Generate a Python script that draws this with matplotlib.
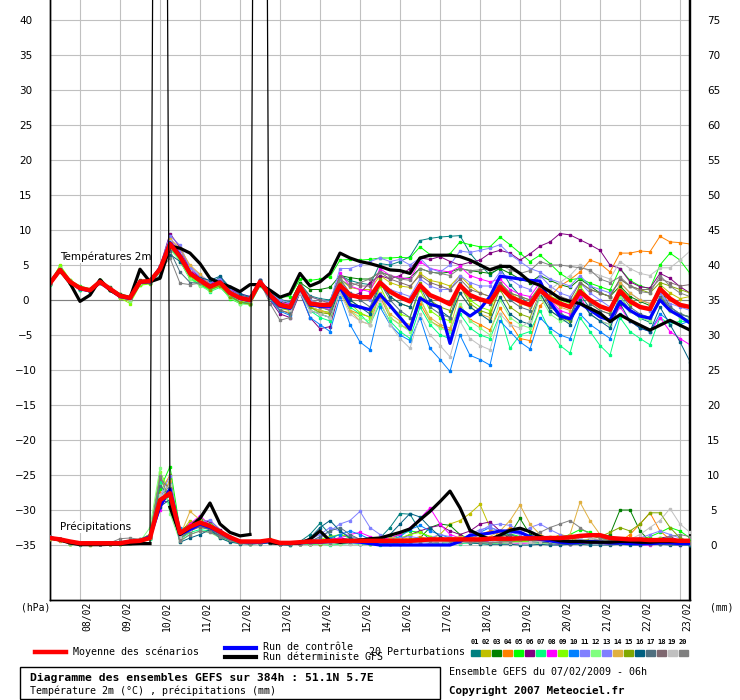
#!/usr/bin/env python3
# -*- coding: utf-8 -*-

import numpy as np
import matplotlib
matplotlib.use('Agg')
import matplotlib.pyplot as plt
from matplotlib import transforms
from matplotlib.lines import Line2D
from matplotlib.patches import Rectangle

W, H = 740, 700

# forecast steps, hours after 07/02/2009 06h
hours = np.arange(0, 385, 6)
day_hours = np.arange(18, 384, 24)
day_labels = ['08/02', '09/02', '10/02', '11/02', '12/02', '13/02', '14/02', '15/02',
              '16/02', '17/02', '18/02', '19/02', '20/02', '21/02', '22/02', '23/02']

member_colors = ['#008080', '#c0c000', '#008000', '#ff8000', '#00ff00', '#800080', '#00ff80',
                 '#ff00ff', '#80ff00', '#0080ff', '#8080ff', '#80ff80', '#7f7fff', '#e0b040',
                 '#80a800', '#005f80', '#4f6f7f', '#7f6870', '#c0c0c0', '#808080']
member_names = ['%02d' % (k + 1) for k in range(20)]

# 2m temperature (C)
t_mean = [2.4, 4.3, 2.6, 1.7, 1.4, 2.6, 1.6, 0.6, 0.3, 2.6, 2.7, 4.4, 8.0, 6.2, 3.8, 2.8, 1.9, 2.5, 1.0, 0.3, 0.0, 2.6, 0.7, -0.7, -1.0,
          1.9, -0.5, -0.7, -0.7, 2.1, 0.7, 0.4, 0.4, 2.5, 1.2, 0.4, -0.2, 2.1, 0.7, 0.1, -0.6, 2.1, 0.7, 0.1, -0.3,
          1.9, 0.5, -0.2, -0.7, 1.4, 0.2, -0.5, -1.0, 1.2, 0.0, -0.9, -1.4, 1.3, -0.2, -1.0, -1.3, 1.6, 0.2, -0.7, -1.0]
t_control = [2.4, 4.3, 2.6, 1.6, 1.3, 2.5, 1.5, 0.5, 0.2, 2.5, 2.6, 4.5, 8.2, 6.4, 3.9, 2.9, 2.0, 2.6, 1.0, 0.2, -0.1, 2.6, 0.5, -0.9, -1.2,
             1.7, -0.7, -0.9, -0.9, 1.8, -0.7, -1.0, -1.4, 0.8, -0.8, -2.5, -4.2, 0.3, -0.6, -1.0, -6.2, -1.3, -2.3, -1.3, 0.5,
             3.4, 3.2, 3.0, 2.8, 2.7, -0.3, -2.3, -2.7, -0.5, -1.4, -2.4, -2.9, -0.2, -1.5, -2.3, -2.6, 0.0, -1.5, -2.3, -3.3]
t_det = [2.4, 4.3, 2.4, -0.2, 0.7, 2.9, 1.4, 0.6, 0.3, 4.4, 2.6, 3.1, 7.7, 7.4, 6.7, 5.2, 3.1, 2.4, 1.9, 1.2, 2.2, 2.2, 1.4, 0.4, 0.9,
         3.8, 2.0, 2.6, 3.8, 6.7, 6.0, 5.5, 5.2, 4.8, 4.3, 4.2, 3.8, 6.0, 6.4, 6.4, 6.4, 6.2, 5.7, 5.0, 4.3,
         4.8, 4.8, 3.8, 2.6, 2.1, 1.2, 0.2, -0.2, -0.5, -1.2, -1.9, -3.1, -2.1, -2.9, -3.6, -4.3, -3.6, -2.9, -3.6, -4.3]
t_members = [
    [2.3, 4.5, 2.5, 1.6, 1.3, 2.8, 1.5, 0.5, 0.2, 2.5, 2.6, 4.0, 7.5, 6.6, 4.2, 3.2, 2.2, 3.3, 1.5, 0.8, 0.3, 2.9, 1.2, 0.1, -0.3,
     2.4, 0.6, 0.2, 0.0, 3.5, 2.8, 2.4, 2.2, 5.2, 5.0, 5.5, 6.2, 8.5, 8.8, 9.0, 9.1, 9.2, 6.7, 5.0, 3.6, 4.6, 2.2, 0.6, -0.8, 1.5, -0.5, -1.8, -2.8, 0.8, -1.2, -2.2, -3.0, 0.6, -1.5, -2.6, -3.2, 0.4, -1.4, -2.4, -3.0],
    [2.5, 4.2, 2.7, 1.8, 1.5, 2.5, 1.7, 0.8, 0.1, 2.4, 2.5, 4.2, 7.6, 6.4, 3.6, 2.5, 1.6, 2.0, 0.5, -0.2, -0.5, 2.2, 0.3, -1.2, -1.5,
     2.0, 0.0, -0.5, -0.8, 3.0, 1.8, 1.5, 1.5, 3.5, 2.5, 2.0, 1.8, 3.8, 2.8, 2.5, 2.0, 3.5, 2.0, 1.0, 0.5, 2.5, 1.0, 0.0, -0.5, 2.0, 0.5, -0.5, -1.0, 1.5, 0.0, -0.8, -1.5, 1.8, 0.2, -0.8, -1.2, 2.2, 1.0, 0.2, 0.5],
    [2.4, 4.4, 2.6, 1.5, 1.2, 2.7, 1.8, 0.9, 0.5, 2.8, 2.9, 4.6, 8.2, 6.0, 3.5, 2.6, 2.0, 2.6, 1.3, 0.6, 0.4, 2.8, 1.0, -0.2, -0.5,
     2.5, 1.5, 1.5, 1.8, 3.5, 3.2, 3.0, 3.0, 4.0, 3.5, 3.0, 3.2, 4.5, 4.0, 3.8, 4.0, 4.5, 4.2, 4.0, 3.8, 4.5, 3.8, 3.0, 2.5, 3.5, 2.8, 2.2, 1.8, 3.0, 2.0, 1.0, 0.5, 2.0, 0.5, -0.2, -0.8, 1.8, -1.0, -2.0, -2.4],
    [2.3, 4.2, 2.5, 1.7, 1.5, 2.6, 1.4, 0.4, -0.2, 2.3, 2.4, 4.5, 8.5, 7.0, 4.5, 3.0, 1.8, 2.2, 0.8, 0.0, -0.3, 2.4, 0.2, -1.5, -1.8,
     1.5, -1.0, -1.5, -1.8, 1.2, -1.5, -2.0, -2.4, 0.5, -2.5, -3.5, -4.3, -0.5, -3.0, -3.8, -4.3, -1.0, -2.8, -3.5, -4.3, -1.2, -3.3, -5.5, -5.8, -0.8, 0.5, 2.0, 2.9, 4.0, 5.7, 5.2, 4.0, 6.7, 6.7, 7.0, 6.9, 9.1, 8.3, 8.2, 8.0],
    [2.6, 4.8, 2.8, 2.0, 1.6, 2.8, 1.6, 0.5, 0.0, 2.2, 2.4, 4.0, 7.8, 5.5, 3.0, 2.2, 1.4, 2.0, 0.2, -0.5, -0.6, 2.2, 0.8, 0.4, 0.5,
     3.0, 2.8, 3.0, 3.3, 5.7, 5.8, 5.7, 5.8, 6.0, 6.0, 6.1, 6.0, 7.6, 6.5, 6.3, 6.6, 8.3, 7.9, 7.6, 7.6, 9.0, 7.9, 6.7, 5.5, 6.4, 5.2, 3.8, 2.9, 3.1, 2.4, 1.9, 1.4, 4.5, 2.8, 2.0, 1.6, 5.0, 6.7, 5.7, 3.8],
    [2.4, 4.3, 2.6, 1.6, 1.3, 2.6, 1.5, 0.7, 0.4, 2.7, 2.8, 4.8, 9.5, 7.5, 4.3, 3.3, 2.4, 3.0, 1.5, 0.5, 0.2, 2.5, 0.0, -2.0, -2.5,
     1.0, -2.5, -4.1, -3.8, 1.5, 0.5, 1.0, 2.5, 3.5, 3.0, 3.5, 4.5, 6.0, 5.8, 6.2, 5.5, 5.0, 5.4, 5.7, 6.7, 7.1, 6.7, 5.7, 6.6, 7.7, 8.3, 9.5, 9.3, 8.6, 7.9, 7.1, 5.0, 4.5, 2.6, 1.9, 1.7, 3.8, 3.1, 1.9, 1.0],
    [2.2, 4.0, 2.4, 1.5, 1.2, 2.4, 1.5, 0.5, 0.0, 2.3, 2.5, 4.1, 7.3, 5.8, 3.2, 2.2, 1.2, 1.8, 0.4, -0.4, -0.6, 2.0, 0.4, -1.0, -1.5,
     1.5, -1.5, -2.5, -3.0, 1.8, -1.0, -2.0, -3.5, -0.5, -3.0, -4.5, -5.5, -1.0, -3.5, -5.0, -5.5, -2.0, -4.0, -5.0, -5.5, -2.0, -6.9, -5.0, -4.5, -1.5, -4.5, -6.5, -7.6, -2.5, -4.5, -6.5, -7.9, -2.5, -4.5, -5.5, -6.4, -2.5, -3.5, -3.0, -3.2],
    [2.5, 4.4, 2.7, 1.8, 1.5, 2.7, 1.7, 0.6, 0.3, 2.6, 2.8, 4.5, 8.6, 6.8, 4.3, 3.1, 2.3, 2.8, 1.6, 0.9, 0.5, 2.9, 1.0, -0.3, -0.6,
     1.8, -0.5, -1.0, -1.3, 3.8, 2.0, 1.5, 1.2, 4.5, 3.5, 3.2, 3.0, 5.5, 4.5, 4.2, 4.0, 4.8, 3.5, 3.0, 2.6, 3.0, 1.5, 0.8, 0.5, 2.5, 0.0, -1.5, -2.0, 0.5, -2.0, -3.0, -3.5, -1.0, -3.0, -4.0, -4.5, -2.5, -4.5, -5.5, -6.4],
    [2.3, 5.0, 2.9, 1.9, 1.6, 2.9, 1.7, 0.3, -0.5, 2.1, 2.3, 4.3, 7.8, 6.0, 3.3, 2.4, 1.5, 2.1, 0.6, -0.2, -0.4, 2.3, 0.3, -1.2, -1.4,
     2.2, -1.0, -1.5, -1.8, 3.2, -0.5, -1.8, -2.5, 2.0, -1.0, -2.0, -2.5, 1.5, -1.5, -2.5, -3.0, 2.0, 0.0, -1.0, -1.5, 2.5, 1.0, 0.5, 0.0, 2.0, 0.5, 0.0, -0.5, 2.0, 0.0, -1.0, -1.5, 1.5, -0.5, -1.0, -1.5, 1.0, -1.5, -2.0, -2.5],
    [2.4, 4.3, 2.5, 1.6, 1.4, 2.5, 1.5, 0.6, 0.2, 2.5, 2.7, 4.6, 8.2, 6.3, 3.9, 2.6, 1.7, 2.3, 0.6, -0.3, -0.5, 2.4, 0.1, -1.6, -2.2,
     1.2, -2.5, -3.5, -4.5, 0.5, -3.5, -6.0, -7.1, -1.0, -3.5, -5.0, -5.8, -2.5, -6.9, -8.5, -10.2, -5.0, -7.9, -8.5, -9.3, -3.0, -4.5, -6.0, -7.0, -2.5, -4.0, -5.0, -5.5, -2.0, -3.5, -4.5, -5.5, -2.0, -3.0, -4.0, -4.5, -2.0, -3.0, -3.5, -3.0],
    [2.4, 4.4, 2.6, 1.7, 1.4, 2.7, 1.7, 0.7, 0.4, 2.7, 2.9, 4.8, 9.2, 7.8, 4.6, 3.4, 2.5, 3.0, 1.4, 0.6, 0.3, 2.8, 1.1, 0.0, -0.4,
     2.0, 0.5, 0.0, -0.3, 4.5, 4.5, 5.0, 5.5, 6.0, 5.5, 5.8, 5.0, 6.0, 4.5, 4.0, 5.0, 7.0, 6.8, 7.1, 7.4, 7.9, 6.5, 5.5, 4.5, 4.0, 3.0, 2.5, 2.0, 3.5, 2.0, 1.5, 1.0, 2.5, 1.0, 0.0, -0.5, 1.0, -0.5, -1.0, -1.5],
    [2.3, 4.6, 2.7, 1.6, 1.3, 2.6, 1.4, 0.4, -0.1, 2.4, 2.5, 4.0, 7.2, 5.6, 3.0, 2.0, 1.3, 1.9, 0.3, -0.5, -0.7, 2.1, 0.2, -1.1, -1.3,
     1.0, -1.0, -2.0, -2.5, 1.5, -1.5, -2.5, -3.0, 1.0, -2.5, -3.5, -4.5, 0.5, -3.0, -4.0, -4.5, -0.5, -3.0, -4.0, -5.0, 0.0, -2.5, -3.5, -4.0, 0.5, -2.0, -3.0, -3.0, 0.0, -2.0, -3.0, -3.5, 0.5, -1.5, -2.5, -3.0, 0.0, -1.5, -2.5, -2.8],
    [2.4, 4.3, 2.6, 1.7, 1.4, 2.6, 1.6, 0.6, 0.3, 2.6, 2.6, 4.3, 8.8, 7.2, 4.8, 3.6, 2.6, 2.7, 1.2, 0.4, 0.1, 2.6, 0.6, -0.8, -1.1,
     2.0, 0.0, -0.5, -1.0, 2.5, 1.0, 0.5, 0.0, 2.8, 1.5, 1.0, 0.5, 3.0, 2.0, 1.5, 1.5, 3.5, 2.5, 2.0, 2.0, 4.0, 3.0, 2.0, 1.5, 3.5, 2.0, 1.0, 0.5, 2.5, 1.0, 0.0, -1.0, 1.5, 0.0, -1.0, -1.5, 1.0, -1.0, -2.0, -2.5],
    [2.5, 4.3, 2.6, 1.8, 1.5, 2.6, 1.6, 0.5, 0.1, 2.5, 2.6, 4.7, 8.7, 7.4, 5.0, 3.7, 2.2, 2.4, 0.9, 0.2, -0.2, 2.5, 0.5, -1.0, -1.3,
     1.5, -1.0, -1.5, -2.0, 2.0, -1.5, -3.0, -3.5, 1.0, -2.0, -3.0, -3.5, 0.0, -2.5, -3.5, -4.0, 1.0, -1.0, -2.0, -2.5, 2.0, 0.5, -0.5, -1.0, 1.5, 0.0, -1.0, -1.5, 1.0, -0.5, -1.5, -2.0, 2.5, 1.0, 0.0, -0.5, 1.5, 0.0, -0.5, -1.0],
    [2.4, 4.2, 2.5, 1.7, 1.4, 2.5, 1.5, 0.6, 0.2, 2.6, 2.7, 4.4, 7.7, 6.1, 3.6, 2.4, 1.5, 2.0, 0.5, -0.3, -0.6, 2.2, 0.4, -1.0, -1.4,
     1.8, -1.0, -1.8, -2.0, 2.5, 0.0, -1.0, -1.5, 3.0, 0.5, -0.5, -1.0, 2.5, 0.0, -1.0, -1.5, 2.0, -0.5, -1.5, -2.0, 1.5, -1.0, -2.0, -2.5, 1.0, -1.5, -2.5, -3.0, 2.5, 1.5, 1.0, 0.5, 3.0, 2.0, 1.5, 1.0, 2.5, 2.0, 1.5, 1.0],
    [2.3, 4.4, 2.6, 1.6, 1.3, 2.7, 1.6, 0.7, 0.3, 2.7, 2.8, 4.9, 6.5, 5.5, 3.8, 3.2, 2.8, 3.4, 1.8, 0.9, 0.5, 2.8, 1.0, -0.4, -0.8,
     1.2, -1.5, -2.0, -2.5, 2.0, 0.0, -1.0, -2.0, 2.5, 0.5, -0.5, -1.0, 2.0, 0.0, -1.5, -2.5, 1.0, -1.0, -2.0, -3.0, 0.5, -2.0, -3.0, -3.5, 1.0, -1.5, -2.5, -3.5, 0.0, -2.0, -3.0, -4.0, -0.5, -3.0, -4.0, -4.5, -1.0, -3.5, -6.0, -8.8],
    [2.4, 4.3, 2.6, 1.7, 1.4, 2.6, 1.6, 0.6, 0.3, 2.6, 2.5, 3.5, 7.0, 4.0, 2.5, 2.4, 2.0, 2.6, 1.1, 0.3, 0.0, 2.5, 0.3, -1.4, -2.0,
     2.0, -0.5, -1.0, -1.5, 3.0, 1.0, 0.0, -1.0, 2.5, 0.0, -1.5, -2.5, 2.0, -1.0, -2.0, -2.5, 2.5, 0.5, 0.0, -0.5, 2.0, 0.0, -1.0, -1.5, 1.5, -1.0, -2.0, -2.5, 1.5, -0.5, -1.5, -2.0, 1.0, -1.0, -2.0, -2.5, 0.5, -1.0, -2.0, -2.5],
    [2.5, 4.3, 2.7, 1.8, 1.5, 2.7, 1.7, 0.7, 0.4, 2.7, 2.8, 4.4, 8.3, 6.5, 4.0, 3.0, 2.1, 2.6, 1.1, 0.4, 0.1, 2.7, 0.8, -0.6, -0.9,
     2.2, 0.5, 0.0, -0.5, 3.5, 2.5, 2.0, 2.0, 4.0, 3.0, 2.5, 2.0, 3.5, 2.5, 2.0, 1.5, 3.0, 1.5, 1.0, 0.5, 2.5, 1.0, 0.5, 0.0, 2.0, 1.0, 0.5, 0.0, 2.5, 1.5, 1.0, 0.5, 3.0, 2.0, 1.5, 1.5, 3.0, 2.5, 2.0, 2.2],
    [2.4, 4.3, 2.6, 1.7, 1.4, 2.6, 1.6, 0.6, 0.2, 2.5, 2.6, 4.5, 8.4, 6.6, 4.1, 2.9, 2.0, 2.5, 0.9, 0.1, -0.2, 2.5, 0.5, -1.0, -1.4,
     1.0, -1.5, -2.0, -2.5, 1.0, -2.0, -3.0, -3.5, 0.0, -3.5, -5.5, -6.9, -2.0, -5.0, -6.5, -8.1, -3.0, -5.5, -6.5, -7.1, -2.0, -3.5, -4.0, -3.0, 1.0, 1.5, 2.5, 3.5, 5.0, 4.0, 3.5, 3.0, 5.5, 4.5, 3.8, 3.5, 4.6, 4.6, 5.7, 7.0],
    [2.3, 4.3, 2.6, 1.7, 1.4, 2.6, 1.6, 0.6, 0.3, 2.6, 2.7, 4.2, 6.0, 2.4, 2.2, 2.4, 2.2, 2.4, 1.0, 0.3, 0.0, 2.6, -0.5, -2.9, -2.5,
     1.5, -0.5, -1.0, -1.5, 3.0, 2.0, 2.5, 3.0, 4.0, 3.5, 3.0, 2.8, 4.5, 4.0, 3.8, 3.5, 4.5, 4.2, 4.3, 4.5, 5.0, 4.3, 3.8, 4.2, 5.5, 5.0, 5.0, 4.8, 4.6, 4.3, 3.0, 2.5, 3.3, 2.0, 1.2, 1.0, 3.5, 2.0, 1.0, 0.5],
]

# precipitation (mm); the two 300 values are the off-scale jumps of the GFS run
p_mean = [1.0, 0.8, 0.5, 0.25, 0.25, 0.25, 0.25, 0.25, 0.5, 0.6, 1.0, 6.4, 7.4, 1.7, 2.6, 3.2, 2.7, 1.9, 1.1, 0.5, 0.5, 0.5, 0.7, 0.3, 0.3,
          0.4, 0.5, 0.5, 0.6, 0.6, 0.6, 0.6, 0.6, 0.6, 0.6, 0.6, 0.6, 0.7, 0.8, 0.8, 0.8, 0.8, 0.8, 0.8, 0.9,
          0.9, 0.9, 0.95, 0.95, 0.95, 1.0, 1.0, 1.1, 1.3, 1.4, 1.4, 1.0, 0.9, 0.8, 0.8, 0.7, 0.7, 0.7, 0.6, 0.6]
p_control = [1.0, 0.8, 0.4, 0.2, 0.2, 0.2, 0.3, 0.3, 0.5, 0.6, 1.2, 5.5, 8.0, 1.5, 2.2, 3.0, 2.5, 1.8, 1.0, 0.5, 0.4, 0.4, 0.5, 0.2, 0.2,
             0.3, 0.4, 0.4, 0.5, 0.5, 0.5, 0.4, 0.2, 0.0, 0.0, 0.0, 0.0, 0.0, 0.0, 0.0, 0.0, 0.5, 1.4, 1.5, 1.7,
             2.0, 2.0, 1.8, 1.2, 0.8, 0.6, 0.4, 0.3, 0.4, 0.5, 0.4, 0.3, 0.3, 0.2, 0.2, 0.2, 0.3, 0.3, 0.2, 0.2]
p_det = [1.0, 0.7, 0.3, 0.05, 0.05, 0.05, 0.1, 0.1, 0.15, 0.2, 0.2, 300, 5.4, 1.5, 2.5, 3.8, 6.0, 3.0, 1.8, 1.3, 1.5, 300, 0.3, 0.2, 0.2,
         0.3, 0.8, 2.0, 0.6, 0.4, 0.5, 0.7, 0.9, 1.0, 1.4, 1.8, 2.3, 3.6, 4.8, 6.2, 7.7, 5.3, 2.1, 1.4, 0.8,
         1.4, 2.1, 2.4, 1.9, 1.2, 0.9, 0.6, 0.5, 0.5, 0.4, 0.4, 0.4, 0.5, 0.5, 0.4, 0.4, 0.5, 0.5, 0.5, 0.5]
p_members = [
    [1.2, 0.8, 0.3, 0.1, 0.1, 0.2, 0.3, 0.4, 0.3, 0.6, 1.4, 7.0, 8.5, 1.0, 2.0, 2.8, 2.5, 1.5, 0.8, 0.4, 0.3, 0.3, 0.6, 0.2, 0.1,
     0.5, 1.5, 3.1, 1.5, 0.5, 0.3, 0.2, 0.3, 1.0, 2.5, 4.5, 4.4, 2.0, 0.8, 0.5, 0.4, 0.6, 0.8, 0.6, 0.4, 0.3, 0.3, 0.5, 0.8, 0.6, 0.4, 0.3, 0.4, 0.3, 0.2, 0.3, 0.5, 0.4, 0.3, 0.2, 0.2, 0.3, 0.3, 0.2, 0.2],
    [1.0, 0.7, 0.2, 0.1, 0.1, 0.1, 0.2, 0.3, 0.5, 0.7, 1.0, 5.5, 9.5, 1.5, 3.5, 2.5, 2.2, 1.8, 1.0, 0.5, 0.4, 0.5, 0.8, 0.3, 0.2,
     0.3, 0.2, 0.4, 0.6, 0.8, 0.5, 0.3, 0.2, 0.3, 0.5, 0.8, 1.0, 0.5, 0.8, 1.5, 3.0, 3.5, 4.5, 5.8, 2.5, 1.0, 0.6, 0.5, 0.4, 0.5, 0.8, 1.5, 1.2, 0.6, 0.4, 0.4, 0.5, 0.8, 0.6, 0.4, 0.3, 0.3, 0.4, 0.3, 0.2],
    [1.1, 0.9, 0.4, 0.2, 0.1, 0.1, 0.2, 0.2, 0.4, 0.5, 0.9, 6.0, 7.0, 2.0, 3.0, 4.0, 2.0, 1.2, 0.6, 0.3, 0.3, 0.4, 0.5, 0.2, 0.1,
     0.2, 0.1, 0.2, 0.3, 0.4, 0.3, 0.2, 0.2, 0.3, 0.2, 0.2, 0.5, 1.0, 2.5, 3.0, 2.8, 1.5, 0.8, 0.5, 0.4, 0.6, 1.5, 3.8, 1.5, 0.8, 0.5, 0.3, 0.3, 0.4, 0.5, 0.8, 1.5, 5.0, 5.0, 2.0, 0.5, 0.4, 0.3, 0.3, 0.2],
    [0.9, 0.6, 0.2, 0.1, 0.0, 0.1, 0.1, 0.2, 0.3, 0.5, 1.2, 7.5, 10.0, 1.2, 2.5, 3.5, 3.0, 1.5, 0.8, 0.5, 0.4, 0.3, 0.4, 0.1, 0.1,
     0.2, 0.3, 0.2, 0.2, 0.3, 0.4, 0.5, 0.3, 0.2, 0.3, 0.5, 0.8, 1.2, 0.8, 0.5, 0.4, 0.5, 0.8, 1.5, 2.0, 1.5, 2.5, 2.0, 1.0, 0.6, 0.4, 0.3, 0.5, 1.0, 1.5, 1.0, 0.6, 0.5, 1.5, 3.0, 4.6, 2.0, 0.8, 0.5, 0.4],
    [1.0, 0.8, 0.3, 0.1, 0.1, 0.2, 0.3, 0.2, 0.6, 0.8, 1.5, 8.0, 11.2, 2.2, 2.8, 3.8, 3.2, 2.0, 1.0, 0.4, 0.2, 0.3, 0.5, 0.2, 0.1,
     0.3, 0.2, 0.5, 1.0, 1.5, 1.0, 0.5, 0.3, 0.4, 0.8, 1.5, 2.0, 1.8, 1.2, 0.8, 0.5, 0.5, 0.6, 0.8, 1.0, 1.2, 1.6, 1.2, 0.8, 0.5, 0.4, 1.0, 1.5, 2.2, 1.8, 1.0, 0.5, 0.5, 0.6, 0.8, 1.2, 1.8, 2.5, 2.0, 1.0],
    [1.1, 0.7, 0.3, 0.1, 0.1, 0.1, 0.2, 0.3, 0.4, 0.6, 1.0, 6.5, 6.0, 1.5, 2.6, 3.0, 3.5, 2.2, 1.2, 0.6, 0.4, 0.4, 0.6, 0.3, 0.2,
     0.2, 0.3, 0.5, 0.8, 1.0, 0.8, 0.5, 0.4, 0.3, 0.4, 0.8, 1.5, 2.0, 2.5, 2.8, 2.0, 1.5, 2.0, 3.0, 3.3, 2.0, 1.0, 0.6, 0.4, 0.3, 0.3, 0.2, 0.2, 0.3, 0.5, 0.6, 0.4, 0.3, 0.5, 0.8, 0.6, 1.0, 1.2, 0.6, 0.4],
    [1.0, 0.9, 0.2, 0.0, 0.1, 0.2, 0.2, 0.1, 0.3, 0.4, 0.8, 9.0, 5.5, 0.8, 1.8, 2.2, 2.0, 1.2, 0.7, 0.3, 0.2, 0.3, 0.4, 0.1, 0.0,
     0.2, 0.1, 0.1, 0.0, 0.1, 0.2, 0.1, 0.1, 0.0, 0.1, 0.3, 0.5, 0.4, 0.3, 0.2, 0.1, 0.2, 0.3, 0.2, 0.1, 0.3, 0.4, 0.6, 0.5, 0.3, 0.2, 0.1, 0.1, 0.2, 0.3, 0.6, 1.0, 0.6, 0.4, 0.2, 0.1, 0.2, 0.1, 0.1, 0.0],
    [1.2, 0.8, 0.3, 0.2, 0.1, 0.1, 0.3, 0.3, 0.5, 0.7, 1.1, 5.0, 8.0, 1.8, 3.0, 4.2, 2.8, 1.6, 0.9, 0.5, 0.4, 0.4, 0.5, 0.2, 0.2,
     0.3, 0.5, 0.6, 0.8, 1.0, 1.5, 1.8, 1.2, 0.8, 1.0, 1.5, 2.5, 3.8, 5.3, 3.0, 1.5, 1.0, 0.8, 0.6, 0.5, 0.4, 0.3, 0.2, 0.3, 0.2, 0.2, 0.1, 0.1, 0.2, 0.3, 0.2, 0.1, 0.1, 0.1, 0.0, 0.0, 0.1, 0.1, 0.0, 0.1],
    [0.9, 0.7, 0.2, 0.1, 0.0, 0.1, 0.2, 0.2, 0.4, 0.5, 1.6, 10.5, 7.5, 1.0, 2.0, 3.0, 2.4, 1.4, 0.7, 0.3, 0.3, 0.3, 0.4, 0.1, 0.1,
     0.2, 0.4, 0.8, 1.2, 1.5, 1.2, 0.8, 0.5, 0.5, 0.8, 1.0, 1.5, 1.8, 1.2, 0.8, 0.6, 0.8, 1.2, 1.5, 1.0, 0.6, 0.5, 0.4, 0.6, 1.0, 1.2, 0.8, 0.5, 0.4, 0.6, 0.8, 0.6, 0.4, 0.5, 0.6, 0.8, 1.0, 0.8, 0.5, 0.4],
    [1.1, 0.8, 0.4, 0.2, 0.1, 0.2, 0.2, 0.3, 0.4, 0.6, 1.0, 6.0, 9.0, 2.5, 2.2, 2.6, 2.2, 1.3, 0.7, 0.4, 0.3, 0.3, 0.4, 0.2, 0.1,
     0.2, 0.3, 0.5, 1.0, 1.5, 2.0, 1.5, 0.8, 0.5, 0.8, 1.2, 2.2, 2.8, 2.0, 1.5, 1.0, 0.8, 1.2, 1.8, 2.5, 2.0, 1.5, 1.0, 0.8, 0.6, 0.5, 0.4, 0.3, 0.4, 0.6, 0.5, 0.3, 0.3, 0.4, 0.6, 0.5, 0.4, 0.3, 0.3, 0.2],
    [1.0, 0.8, 0.3, 0.1, 0.1, 0.1, 0.3, 0.4, 0.5, 0.8, 1.3, 7.0, 9.8, 1.4, 2.4, 3.2, 3.6, 2.0, 1.1, 0.5, 0.4, 0.5, 0.6, 0.3, 0.2,
     0.3, 0.5, 1.0, 2.0, 3.0, 3.5, 4.8, 2.5, 1.5, 1.0, 0.6, 0.5, 0.6, 1.0, 1.5, 1.2, 0.8, 1.2, 2.0, 2.8, 3.0, 2.8, 2.0, 1.2, 0.8, 0.6, 0.5, 0.8, 1.2, 1.0, 0.6, 0.5, 0.6, 0.8, 1.0, 1.5, 2.0, 1.5, 1.0, 0.5],
    [1.0, 0.7, 0.2, 0.1, 0.1, 0.1, 0.2, 0.2, 0.3, 0.5, 2.5, 11.0, 4.5, 0.5, 1.5, 2.0, 1.8, 1.0, 0.5, 0.2, 0.2, 0.2, 0.3, 0.1, 0.0,
     0.2, 0.2, 0.1, 0.1, 0.2, 0.3, 0.5, 0.8, 1.0, 1.2, 0.8, 0.5, 0.4, 0.3, 0.3, 0.4, 0.6, 0.5, 0.4, 0.3, 0.2, 0.3, 0.4, 0.3, 0.2, 0.2, 0.3, 0.5, 0.8, 0.6, 0.4, 0.3, 0.2, 0.2, 0.3, 0.2, 0.2, 0.1, 0.1, 0.1],
    [1.1, 0.8, 0.3, 0.2, 0.1, 0.2, 0.3, 0.3, 0.4, 0.6, 1.2, 6.8, 8.8, 1.6, 2.6, 3.4, 2.6, 1.6, 0.9, 0.4, 0.3, 0.4, 0.5, 0.2, 0.1,
     0.4, 0.8, 1.5, 2.5, 2.0, 1.2, 0.8, 0.5, 0.4, 0.6, 1.0, 1.2, 1.0, 0.8, 0.6, 0.5, 0.8, 1.5, 2.2, 2.5, 2.0, 1.8, 1.5, 2.5, 3.0, 2.2, 1.5, 1.0, 0.8, 0.6, 0.5, 0.4, 0.5, 0.6, 0.8, 0.6, 0.5, 0.4, 0.3, 0.3],
    [1.0, 0.7, 0.3, 0.1, 0.1, 0.1, 0.2, 0.3, 0.4, 0.6, 1.0, 5.8, 9.2, 1.3, 4.8, 3.6, 2.4, 1.5, 0.8, 0.4, 0.3, 0.4, 0.5, 0.2, 0.1,
     0.2, 0.3, 0.3, 0.2, 0.3, 0.4, 0.6, 0.8, 1.0, 1.2, 0.8, 0.5, 0.4, 0.6, 0.8, 1.0, 1.2, 1.0, 0.8, 1.2, 2.0, 3.5, 5.7, 3.0, 1.5, 0.8, 0.6, 1.5, 6.1, 3.5, 1.5, 0.8, 0.6, 0.5, 0.4, 0.5, 0.6, 0.5, 0.4, 0.3],
    [1.1, 0.8, 0.3, 0.1, 0.1, 0.1, 0.2, 0.3, 0.4, 0.6, 1.1, 6.2, 8.2, 1.4, 2.4, 3.0, 2.6, 1.7, 0.9, 0.5, 0.4, 0.4, 0.5, 0.2, 0.1,
     0.3, 0.2, 0.2, 0.3, 0.4, 0.5, 0.4, 0.3, 0.3, 0.4, 0.6, 0.8, 1.0, 0.8, 0.6, 0.5, 0.6, 0.8, 1.0, 0.8, 0.6, 0.5, 0.6, 0.8, 1.0, 1.2, 1.0, 0.8, 0.6, 0.8, 1.2, 1.8, 2.5, 2.0, 3.0, 4.6, 4.6, 2.5, 1.0, 0.5],
    [1.2, 0.9, 0.4, 0.2, 0.1, 0.2, 0.3, 0.3, 0.5, 0.6, 1.3, 5.5, 6.5, 0.4, 1.0, 1.5, 2.2, 1.0, 0.4, 0.2, 0.1, 0.2, 0.3, 0.1, 0.0,
     0.3, 1.0, 2.5, 3.5, 2.0, 1.0, 0.5, 0.3, 0.5, 1.5, 3.0, 4.5, 4.0, 2.5, 1.2, 0.6, 0.4, 0.3, 0.2, 0.1, 0.1, 0.1, 0.0, 0.0, 0.1, 0.0, 0.0, 0.1, 0.1, 0.0, 0.0, 0.0, 0.1, 0.0, 0.0, 0.1, 0.1, 0.0, 0.0, 0.0],
    [1.0, 0.8, 0.3, 0.1, 0.1, 0.1, 0.3, 0.3, 0.5, 0.6, 1.2, 8.5, 7.0, 1.1, 2.3, 2.8, 2.2, 1.3, 0.7, 0.3, 0.3, 0.3, 0.4, 0.1, 0.1,
     0.2, 0.5, 1.2, 2.0, 2.5, 1.5, 0.8, 0.4, 0.3, 0.2, 0.2, 0.3, 0.5, 0.6, 0.5, 0.4, 0.3, 0.4, 0.6, 0.8, 1.2, 1.5, 1.0, 0.6, 0.4, 0.3, 0.3, 0.2, 0.3, 0.4, 0.3, 0.2, 0.3, 0.4, 0.3, 0.2, 0.2, 0.1, 0.1, 0.1],
    [1.1, 0.8, 0.3, 0.2, 0.1, 0.2, 0.2, 0.3, 0.4, 0.7, 1.4, 9.5, 8.0, 0.9, 2.0, 2.6, 2.4, 1.5, 0.8, 0.4, 0.3, 0.3, 0.5, 0.2, 0.1,
     0.3, 0.2, 0.3, 0.5, 0.6, 0.5, 0.4, 0.3, 0.4, 0.5, 0.6, 0.5, 0.4, 0.3, 0.4, 0.6, 0.8, 0.6, 0.5, 0.4, 0.5, 0.8, 1.2, 1.0, 0.8, 0.6, 0.5, 0.4, 0.5, 0.6, 0.8, 1.0, 0.8, 0.6, 0.5, 0.4, 0.4, 0.3, 0.3, 0.3],
    [1.0, 0.7, 0.3, 0.1, 0.1, 0.1, 0.2, 0.2, 0.4, 0.6, 1.1, 7.2, 8.6, 1.2, 2.2, 3.2, 2.8, 1.8, 1.0, 0.4, 0.3, 0.3, 0.5, 0.2, 0.1,
     0.2, 0.2, 0.3, 0.2, 0.3, 0.2, 0.2, 0.3, 0.4, 0.5, 0.4, 0.3, 0.3, 0.4, 0.5, 0.4, 0.3, 0.5, 0.8, 0.6, 0.4, 0.3, 0.3, 0.4, 0.5, 0.6, 0.8, 1.0, 1.2, 1.0, 0.8, 0.6, 0.5, 0.8, 1.5, 2.5, 3.5, 5.2, 3.0, 1.8],
    [1.1, 0.9, 0.3, 0.2, 0.1, 0.2, 0.3, 0.9, 1.0, 0.8, 1.5, 9.8, 6.5, 0.6, 1.5, 2.0, 1.8, 1.2, 0.7, 0.3, 0.2, 0.3, 0.4, 0.1, 0.1,
     0.2, 0.3, 0.4, 0.3, 0.4, 0.5, 0.6, 0.5, 0.4, 0.3, 0.3, 0.4, 0.5, 0.6, 0.8, 0.6, 0.5, 0.4, 0.3, 0.3, 0.4, 0.5, 0.8, 1.2, 1.8, 2.5, 3.0, 3.5, 2.5, 1.5, 1.0, 0.6, 0.5, 0.4, 0.5, 0.6, 0.8, 1.2, 1.5, 1.2],
]

MONO = 'DejaVu Sans Mono'


def fx(px):
    return px / W


def fy(py):
    return 1 - py / H


def draw_series(ax, ax2):
    """members first, then control, deterministic and mean on top"""
    for k in range(20):
        c = member_colors[k]
        ax.plot(hours, t_members[k], color=c, lw=0.7, marker='s', ms=1.5,
                mec=c, zorder=3)
        ax2.plot(hours, p_members[k], color=c, lw=0.7, marker='s', ms=1.5,
                 mec=c, zorder=3)

    ax.plot(hours, t_control, color='#0000ff', lw=2.3, zorder=4)
    ax.plot(hours, t_det, color='black', lw=2.3, zorder=5)
    ax.plot(hours, t_mean, color='#ff0000', lw=3.2, zorder=6)

    ax2.plot(hours, p_control, color='#0000ff', lw=2.3, zorder=4)
    # thin line carries the off-scale jumps, thick line the rest
    pd = np.array(p_det, dtype=float)
    ax2.plot(hours, pd, color='black', lw=0.9, zorder=5)
    ax2.plot(hours, np.where(pd > 100, np.nan, pd), color='black', lw=2.3, zorder=5)
    ax2.plot(hours, p_mean, color='#ff0000', lw=3.2, zorder=6)


def draw_legend(fig):
    fs = 7.2
    fig.add_artist(Line2D([fx(35), fx(66)], [fy(651.5)] * 2, color='#ff0000', lw=3.2,
                          transform=fig.transFigure))
    fig.text(fx(73), fy(652), 'Moyenne des scénarios', family=MONO, fontsize=fs, va='center')
    fig.add_artist(Line2D([fx(225), fx(256)], [fy(647.5)] * 2, color='#0000ff', lw=3,
                          transform=fig.transFigure))
    fig.add_artist(Line2D([fx(225), fx(256)], [fy(656.5)] * 2, color='black', lw=3,
                          transform=fig.transFigure))
    fig.text(fx(263), fy(647.5), 'Run de contrôle', family=MONO, fontsize=fs, va='center')
    fig.text(fx(263), fy(657.5), 'Run déterministe GFS', family=MONO, fontsize=fs, va='center')
    fig.text(fx(369), fy(652), '20 Perturbations', family=MONO, fontsize=fs, va='center')

    for k, (c, name) in enumerate(zip(member_colors, member_names)):
        x0 = 470.5 + k * 10.95
        fig.add_artist(Rectangle((fx(x0), fy(655.5)), 9 / W, 6 / H, color=c,
                                 transform=fig.transFigure))
        fig.text(fx(x0 + 4.5), fy(642.5), name, family=MONO, fontsize=5,
                 ha='center', va='center', weight='bold')

    fig.add_artist(Rectangle((fx(20), fy(699)), 420 / W, 32 / H, fill=False,
                             edgecolor='black', lw=1, transform=fig.transFigure))
    fig.text(fx(30), fy(678), 'Diagramme des ensembles GEFS sur 384h : 51.1N 5.7E',
             family=MONO, fontsize=8.2, weight='bold', va='center')
    fig.text(fx(30), fy(691), 'Température 2m (°C) , précipitations (mm)',
             family=MONO, fontsize=fs, va='center')
    fig.text(fx(449), fy(672), 'Ensemble GEFS du 07/02/2009 - 06h',
             family=MONO, fontsize=fs, va='center')
    fig.text(fx(449), fy(691), 'Copyright 2007 Meteociel.fr',
             family=MONO, fontsize=7.8, weight='bold', va='center')


if __name__ == '__main__':
    fig = plt.figure(figsize=(W / 100, H / 100), dpi=100)
    ax = fig.add_axes([fx(50), fy(600), 640 / W, 600 / H])
    ax.set_xlim(0, 384)
    ax.set_ylim(-300 / 7, 300 / 7)

    ax2 = ax.twinx()
    ax2.set_ylim(-300 / 7 + 35, 300 / 7 + 35)

    # grid: day boundaries and every 5 units
    ax.set_xticks(day_hours)
    ax.set_xticklabels([])
    ax.set_yticks(np.arange(-35, 41, 5))
    ax.grid(True, color='#c0c0c0', lw=0.8)
    ax.set_axisbelow(True)
    ax.axhline(0, color='#808080', lw=0.8, zorder=1)
    ax.tick_params(axis='both', length=0)
    ax.tick_params(axis='y', pad=17.5, labelsize=7.5)
    for lbl in ax.get_yticklabels():
        lbl.set_ha('center')

    ax2.set_yticks(np.arange(0, 76, 5))
    ax2.tick_params(axis='y', length=0, pad=17, labelsize=7.5)
    for lbl in ax2.get_yticklabels():
        lbl.set_ha('center')

    for a in (ax, ax2):
        a.spines['top'].set_visible(False)
        a.spines['left'].set_linewidth(1.0)
        a.spines['bottom'].set_linewidth(1.0)
        a.spines['right'].set_linewidth(1.6)

    draw_series(ax, ax2)

    ax.text(fx(60), fy(257), 'Températures 2m', transform=fig.transFigure, fontsize=7.5,
            va='center', zorder=2.5, bbox=dict(fc='white', ec='none', pad=0.5))
    ax.text(fx(60), fy(527), 'Précipitations', transform=fig.transFigure, fontsize=7.5,
            va='center', zorder=2.5, bbox=dict(fc='white', ec='none', pad=0.5))

    # date labels, a little right of each day line
    trans = transforms.offset_copy(
        transforms.blended_transform_factory(ax.transData, fig.transFigure),
        fig=fig, x=7, y=0, units='dots')
    for h, lab in zip(day_hours, day_labels):
        ax.text(h, fy(602), lab, transform=trans, rotation=90, ha='center', va='top',
                family=MONO, fontsize=7, clip_on=False)

    fig.text(fx(36), fy(607), '(hPa)', family=MONO, fontsize=7, ha='center', va='center')
    fig.text(fx(722), fy(607), '(mm)', family=MONO, fontsize=7, ha='center', va='center')

    draw_legend(fig)

    fig.savefig('out.png', dpi=100)
